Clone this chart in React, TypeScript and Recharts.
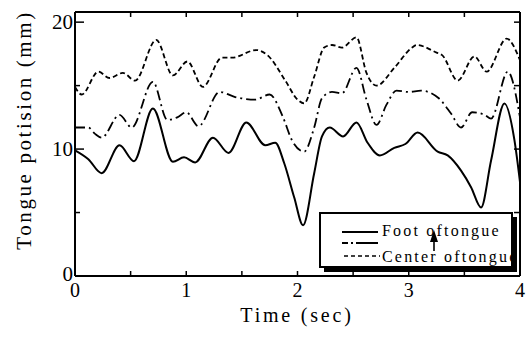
import React from "react";
import { LineChart, Line, XAxis, YAxis } from "recharts";

// Foot of tongue (solid)
const footTime = [0, 0.12, 0.24, 0.4, 0.53, 0.7, 0.88, 0.98, 1.08, 1.24, 1.38, 1.54, 1.71, 1.8, 1.88, 1.97, 2.05, 2.15, 2.22, 2.29, 2.41, 2.53, 2.63, 2.74, 2.87, 2.97, 3.08, 3.26, 3.35, 3.47, 3.56, 3.65, 3.74, 3.86, 3.95, 4.0];
const footValue = [9.9, 9.2, 8.1, 10.3, 9.05, 13.2, 9.0, 9.35, 8.95, 10.9, 9.7, 12.1, 10.3, 10.5, 8.9, 6.2, 4.0, 8.1, 11.0, 11.7, 11.0, 12.1, 10.5, 9.5, 10.1, 10.4, 11.3, 9.8, 9.5, 8.3, 7.0, 5.4, 9.1, 13.6, 10.7, 7.4];

// middle of tongue (dash-dot)
const midTime = [0, 0.12, 0.18, 0.24, 0.4, 0.51, 0.7, 0.83, 0.92, 1.0, 1.11, 1.3, 1.44, 1.62, 1.75, 1.87, 1.95, 2.06, 2.15, 2.22, 2.31, 2.4, 2.53, 2.62, 2.71, 2.8, 2.89, 3.0, 3.11, 3.27, 3.38, 3.47, 3.57, 3.68, 3.74, 3.89, 4.0];
const midValue = [11.7, 11.7, 11.2, 10.9, 12.7, 11.7, 15.3, 12.3, 12.5, 12.9, 11.8, 14.5, 14.1, 13.9, 14.3, 12.5, 10.7, 9.8, 11.7, 14.0, 14.5, 14.4, 16.4, 13.9, 11.9, 13.5, 14.6, 14.5, 14.6, 14.0, 12.8, 11.7, 12.9, 12.7, 12.4, 16.1, 12.5];

// Center of tongue (dashed)
const centerTime = [0, 0.06, 0.21, 0.31, 0.43, 0.54, 0.73, 0.88, 1.01, 1.15, 1.32, 1.41, 1.63, 1.73, 1.89, 2.0, 2.06, 2.15, 2.24, 2.31, 2.4, 2.53, 2.62, 2.71, 2.87, 3.03, 3.07, 3.25, 3.3, 3.44, 3.59, 3.7, 3.88, 4.0];
const centerValue = [14.9, 14.3, 16.1, 15.6, 16.0, 15.4, 18.6, 15.8, 16.9, 14.9, 17.2, 17.2, 17.8, 17.4, 15.4, 13.9, 13.6, 15.7, 18.0, 18.2, 18.0, 18.8, 16.0, 15.0, 16.4, 18.0, 18.2, 17.6, 17.4, 15.4, 17.3, 16.1, 18.7, 17.0];

const xTicks = [0, 0.5, 1, 1.5, 2, 2.5, 3, 3.5, 4];
const xLabels = [0, 1, 2, 3, 4];
const yTicks = [0, 5, 10, 15, 20];
const yLabels = [0, 10, 20];

const toPoints = (t: number[], v: number[]) => t.map((time, i) => ({ time, value: v[i] }));

const font = "'Liberation Serif', 'Times New Roman', serif";
const axisLine = { stroke: "#000", strokeWidth: 2 };

function BottomTick(props: any) {
  const { x, y, payload } = props;
  return (
    <g>
      <line x1={x} y1={y} x2={x} y2={y - 5} stroke="#000" strokeWidth={1.5} />
      {xLabels.includes(payload.value) && (
        <text x={x} y={y + 21} textAnchor="middle" fontFamily={font} fontSize={20} fill="#000">
          {payload.value}
        </text>
      )}
    </g>
  );
}

function TopTick(props: any) {
  const { x, y } = props;
  return <line x1={x} y1={y} x2={x} y2={y + 5} stroke="#000" strokeWidth={1.5} />;
}

function LeftTick(props: any) {
  const { x, y, payload } = props;
  const major = yLabels.includes(payload.value);
  return (
    <g>
      <line x1={x} y1={y} x2={x + (major ? 9 : 5)} y2={y} stroke="#000" strokeWidth={1.5} />
      {major && (
        <text x={x - 2} y={y + (payload.value === 0 ? 5 : 7)} textAnchor="end" fontFamily={font} fontSize={21} fill="#000">
          {payload.value}
        </text>
      )}
    </g>
  );
}

function RightTick(props: any) {
  const { x, y } = props;
  return <line x1={x} y1={y} x2={x - 6} y2={y} stroke="#000" strokeWidth={1.5} />;
}

export default function App() {
  return (
    <div style={{ position: "absolute", left: 0, top: 0, width: 528, height: 338, background: "#fff" }}>
      <LineChart width={528} height={338} margin={{ top: 0, right: 0, bottom: 0, left: 0 }}>
        <XAxis xAxisId="b" dataKey="time" type="number" domain={[0, 4]} ticks={xTicks} interval={0}
          height={62} tickSize={0} tickMargin={0} tickLine={false} tick={<BottomTick />} axisLine={axisLine} allowDataOverflow />
        <XAxis xAxisId="t" orientation="top" dataKey="time" type="number" domain={[0, 4]} ticks={xTicks} interval={0}
          height={12} tickSize={0} tickMargin={0} tickLine={false} tick={<TopTick />} axisLine={axisLine} allowDataOverflow />
        <YAxis yAxisId="l" type="number" domain={[0, 20.8]} ticks={yTicks} interval={0}
          width={75} tickSize={0} tickMargin={0} tickLine={false} tick={<LeftTick />} axisLine={axisLine} allowDataOverflow />
        <YAxis yAxisId="r" orientation="right" type="number" domain={[0, 20.8]} ticks={yTicks} interval={0}
          width={8} tickSize={0} tickMargin={0} tickLine={false} tick={<RightTick />} axisLine={axisLine} allowDataOverflow />
        <Line xAxisId="b" yAxisId="l" data={toPoints(centerTime, centerValue)} dataKey="value" type="monotone"
          stroke="#000" strokeWidth={1.8} strokeDasharray="5 3" dot={false} isAnimationActive={false} />
        <Line xAxisId="b" yAxisId="l" data={toPoints(midTime, midValue)} dataKey="value" type="monotone"
          stroke="#000" strokeWidth={1.8} strokeDasharray="10 4 2 4" dot={false} isAnimationActive={false} />
        <Line xAxisId="b" yAxisId="l" data={toPoints(footTime, footValue)} dataKey="value" type="monotone"
          stroke="#000" strokeWidth={2} dot={false} isAnimationActive={false} />
      </LineChart>
      <svg width={528} height={338} style={{ position: "absolute", left: 0, top: 0, pointerEvents: "none" }}>
        <defs>
          <clipPath id="legendClip">
            <rect x={321} y={214} width={190} height={52} />
          </clipPath>
        </defs>
        <text transform="translate(31,130) rotate(-90)" textAnchor="middle" fontFamily={font} fontSize={21}
          letterSpacing={2.6} fill="#000">
          Tongue potision (mm)
        </text>
        <text x={297} y={322} textAnchor="middle" fontFamily={font} fontSize={20} letterSpacing={2.8} fill="#000">
          Time (sec)
        </text>
        <rect x={324} y={217} width={193} height={55} fill="#000" />
        <rect x={320} y={213} width={192} height={54} fill="#fff" stroke="#000" strokeWidth={2} />
        <line x1={342} y1={232} x2={378} y2={232} stroke="#000" strokeWidth={1.8} />
        <line x1={342} y1={243} x2={378} y2={243} stroke="#000" strokeWidth={1.8} strokeDasharray="6 3 2 3 22" />
        <line x1={344} y1={256} x2={380} y2={256} stroke="#000" strokeWidth={1.5} strokeDasharray="4 3" />
        <g clipPath="url(#legendClip)" fontFamily={font} fontSize={16} letterSpacing={2.2} fill="#000">
          <text x={382} y={236}>Foot oftongue</text>
          <text x={382} y={262}>Center oftongue</text>
        </g>
        <line x1={434} y1={251} x2={434} y2={239} stroke="#000" strokeWidth={1.6} />
        <polygon points="430,242 438,242 434,230" fill="#000" />
      </svg>
    </div>
  );
}
